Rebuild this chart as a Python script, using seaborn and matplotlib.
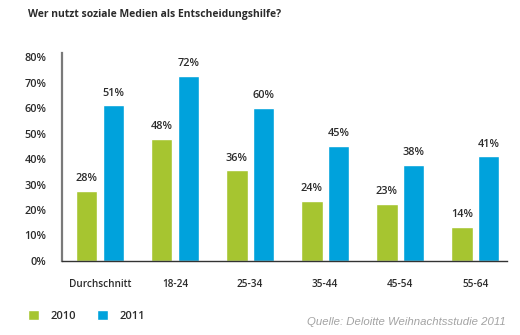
import matplotlib
matplotlib.use("Agg")
import matplotlib.pyplot as plt
import seaborn as sns
import pandas as pd

categories = ["Durchschnitt", "18-24", "25-34", "35-44", "45-54", "55-64"]
years = ["2010", "2011"]
values_2010 = [27.5, 48, 35.5, 23.5, 22.5, 13.5]
values_2011 = [61, 72.5, 60, 45, 37.5, 41]
labels_2010 = ["28%", "48%", "36%", "24%", "23%", "14%"]
labels_2011 = ["51%", "72%", "60%", "45%", "38%", "41%"]
yticks = [0, 10, 20, 30, 40, 50, 60, 70, 80]
title = "Wer nutzt soziale Medien als Entscheidungshilfe?"
source = "Quelle: Deloitte Weihnachtsstudie 2011"

df = pd.DataFrame({
    "Gruppe": categories * 2,
    "Jahr": [years[0]] * len(categories) + [years[1]] * len(categories),
    "Wert": values_2010 + values_2011,
})

sns.set_style("white")
plt.rcParams["font.family"] = ["Open Sans", "DejaVu Sans"]

GREEN = "#A6C530"
BLUE = "#00A2DC"
TXT = "#2b2b2b"

fig = plt.figure(figsize=(5.2, 3.35), dpi=100)
ax = fig.add_axes([0.1187, 0.2209, 0.9744 - 0.1187, 0.842 - 0.2209])

sns.barplot(data=df, x="Gruppe", y="Wert", hue="Jahr", order=categories,
            hue_order=years, palette=[GREEN, BLUE], width=0.71, gap=0.19,
            saturation=1, ax=ax, legend=True)

ax.set_ylim(0, 81.6)
ax.set_xlim(-0.51, 5.42)
ax.set_yticks(yticks)
ax.set_yticklabels([f"{t}%" for t in yticks], fontsize=7.8, fontweight="semibold", color=TXT)
ax.tick_params(axis="y", length=0, pad=11)
ax.tick_params(axis="x", length=0, pad=13, labelsize=7.2, labelcolor=TXT)
for lab in ax.get_xticklabels():
    lab.set_fontweight("semibold")
ax.set_xlabel("")
ax.set_ylabel("")

for s in ["top", "right"]:
    ax.spines[s].set_visible(False)
ax.spines["left"].set_color("#7a7a7a")
ax.spines["left"].set_linewidth(1.6)
ax.spines["bottom"].set_color("#333333")
ax.spines["bottom"].set_linewidth(1.0)

for cont, labs in zip(ax.containers, [labels_2010, labels_2011]):
    ax.bar_label(cont, labels=labs, padding=5, fontsize=7.8, fontweight="semibold", color=TXT)

handles, lbls = ax.get_legend_handles_labels()
ax.legend(handles, lbls, loc="center left", bbox_to_anchor=(0.035, 0.057),
          bbox_transform=fig.transFigure, ncol=2, frameon=False,
          handlelength=1.0, handleheight=1.0, handletextpad=1.0, columnspacing=1.9,
          prop={"size": 8, "weight": "semibold"}, labelcolor=TXT)

fig.text(28 / 520, 1 - 15 / 335, title, fontsize=7.5, fontweight="bold", color=TXT,
         ha="left", va="center")
fig.text(506 / 520, 1 - 322 / 335, source, fontsize=8.2, style="italic", color="#a3a3a3",
         ha="right", va="center", family=["Liberation Sans", "DejaVu Sans"])

fig.savefig("out.png", dpi=100)
